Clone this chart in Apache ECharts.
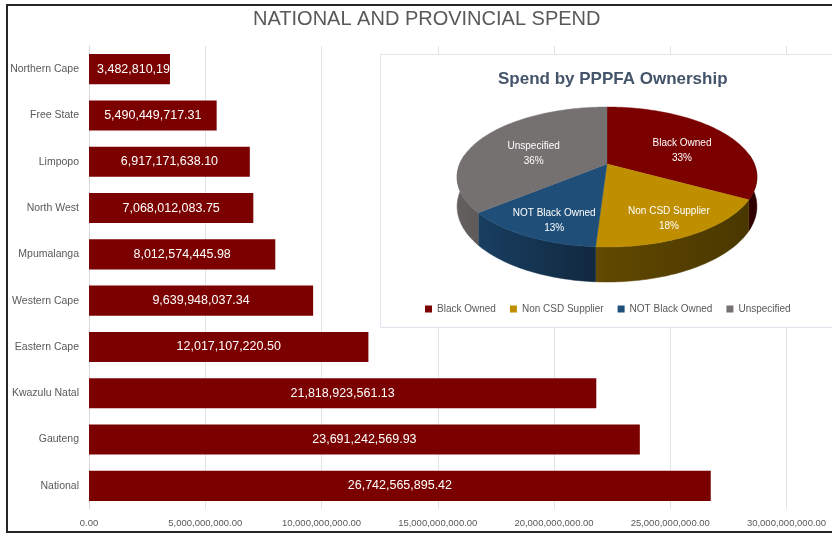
<!DOCTYPE html>
<html>
<head>
<meta charset="utf-8">
<script src="https://cdn.jsdelivr.net/npm/echarts@6/dist/echarts.min.js"></script>
<style>
  html, body { margin: 0; padding: 0; background: #ffffff; }
  #chart { width: 832px; height: 534px; }
</style>
</head>
<body>
<div id="chart"></div>
<script>
// Spend per government level
const categories = ['Northern Cape', 'Free State', 'Limpopo', 'North West', 'Mpumalanga',
  'Western Cape', 'Eastern Cape', 'Kwazulu Natal', 'Gauteng', 'National'];
const spendValues = [3482810190.00, 5490449717.31, 6917171638.10, 7068012083.75, 8012574445.98,
  9639948037.34, 12017107220.50, 21818923561.13, 23691242569.93, 26742565895.42];

// Value axis range
const axisMin = 0;
const axisMax = 30000000000;
const axisStep = 5000000000;

// Share of spend by PPPFA ownership (percent)
const ownershipNames = ['Black Owned', 'Non CSD Supplier', 'NOT Black Owned', 'Unspecified'];
const ownershipShare = [33, 18, 13, 36];

const FONT = '"Liberation Sans", Arial, sans-serif';
const barColor = '#7b0000';
const sliceColors = ['#7b0000', '#bf8f00', '#1f4e79', '#767171'];

function withCommas(v) {
  const fixed = Math.abs(v).toFixed(2);
  const parts = fixed.split('.');
  parts[0] = parts[0].replace(/\B(?=(\d{3})+(?!\d))/g, ',');
  return (v < 0 ? '-' : '') + parts[0] + '.' + parts[1];
}

// ---- 3D pie geometry (perspective view of a tilted disc) ----
const PIE = { cx: 607, cy: 164, a: 147.3, b: 67.6, dist: 5.39, depth: 28.5, halfWidth: 151 };

function project(X, Z, drop) {
  const s = PIE.dist / (PIE.dist - Z);
  return [PIE.cx + PIE.a * X * s, PIE.cy + PIE.b * Z * s + drop * s];
}
function rimPoint(deg, drop, r) {
  const t = deg * Math.PI / 180;
  const rr = r == null ? 1 : r;
  return project(rr * Math.sin(t), -rr * Math.cos(t), drop);
}
function shade(hex, f) {
  const n = parseInt(hex.slice(1), 16);
  const r = Math.round(((n >> 16) & 255) * f);
  const g = Math.round(((n >> 8) & 255) * f);
  const b = Math.round((n & 255) * f);
  return 'rgb(' + r + ',' + g + ',' + b + ')';
}
// wall brightness: lit from the left, darker towards the right
function wallFactor(X) {
  return X < 0 ? 0.5 - 0.35 * X : 0.5 - 0.12 * X;
}
function wallGradient(color) {
  const stops = [];
  for (let k = 0; k <= 10; k++) {
    const X = -1 + k / 5;
    stops.push({ offset: k / 10, color: shade(color, wallFactor(X)) });
  }
  return {
    type: 'linear', global: true,
    x: PIE.cx - PIE.halfWidth, y: 0, x2: PIE.cx + PIE.halfWidth, y2: 0,
    colorStops: stops
  };
}

function sliceAngles(idx) {
  const total = ownershipShare.reduce((s, v) => s + v, 0);
  let start = 0;
  for (let i = 0; i < idx; i++) start += ownershipShare[i] / total * 360;
  const end = start + ownershipShare[idx] / total * 360;
  return { start, end, pct: Math.round(ownershipShare[idx] / total * 100) };
}

function makeSliceRenderer(idx) {
  return function (params, api) {
    const ang = sliceAngles(idx);
    const color = sliceColors[idx];
    const children = [];

    // side wall (front part only; the back is hidden by the top face)
    const w0 = Math.max(ang.start, 82), w1 = Math.min(ang.end, 278);
    if (w1 > w0) {
      const steps = Math.max(2, Math.ceil((w1 - w0) / 1));
      const top = [], bottom = [];
      for (let k = 0; k <= steps; k++) {
        const d = w0 + (w1 - w0) * k / steps;
        top.push(rimPoint(d, 0));
        bottom.push(rimPoint(d, PIE.depth));
      }
      const grad = wallGradient(color);
      children.push({
        type: 'polygon',
        z2: 10 + idx,
        shape: { points: top.concat(bottom.reverse()) },
        style: { fill: grad, stroke: grad, lineWidth: 0.5 }
      });
    }

    // top face
    const pts = [project(0, 0, 0)];
    const n = Math.max(2, Math.ceil(ang.end - ang.start));
    for (let k = 0; k <= n; k++) pts.push(rimPoint(ang.start + (ang.end - ang.start) * k / n, 0));
    children.push({
      type: 'polygon',
      z2: 100,
      shape: { points: pts },
      style: { fill: color, stroke: color, lineWidth: 0.4 }
    });

    // data label
    const m = (ang.start + ang.end) / 2;
    const Zm = -Math.cos(m * Math.PI / 180);
    const lp = rimPoint(m, 0, 0.6 + 0.15 * Math.max(0, Zm));
    children.push({
      type: 'text',
      z2: 200,
      x: lp[0] + 3, y: lp[1] + 6,
      style: {
        text: ownershipNames[idx] + '\n' + ang.pct + '%',
        fill: '#ffffff', fontSize: 10, fontFamily: FONT,
        align: 'center', verticalAlign: 'middle', lineHeight: 15
      }
    });
    return { type: 'group', children };
  };
}

const pieSeries = ownershipNames.map((name, i) => ({
  type: 'custom',
  name: name,
  coordinateSystem: 'none',
  silent: true,
  z: 3,
  itemStyle: { color: sliceColors[i] },
  data: [ownershipShare[i]],
  renderItem: makeSliceRenderer(i)
}));

const barData = spendValues.map((v, i) => {
  if (i === 0) {
    return {
      value: v,
      label: { position: 'insideLeft', distance: 8, width: 77, overflow: 'truncate', ellipsis: '' }
    };
  }
  return v;
});

const chart = echarts.init(document.getElementById('chart'), null, { renderer: 'canvas' });
chart.setOption({
  animation: false,
  backgroundColor: '#ffffff',
  textStyle: { fontFamily: FONT },
  title: [
    {
      text: 'NATIONAL AND PROVINCIAL SPEND',
      left: 248, top: 4,
      textStyle: { color: '#595959', fontSize: 20, fontWeight: 'normal', fontFamily: FONT }
    },
    {
      text: 'Spend by PPPFA Ownership',
      left: 493, top: 66,
      textStyle: { color: '#44546a', fontSize: 17, fontWeight: 'bold', fontFamily: FONT }
    }
  ],
  legend: {
    data: ownershipNames,
    left: 420, top: 299,
    icon: 'rect', itemWidth: 7, itemHeight: 7, itemGap: 14,
    selectedMode: false,
    textStyle: { color: '#595959', fontSize: 10, fontFamily: FONT }
  },
  grid: { left: 89, right: 45.5, top: 46, bottom: 25, containLabel: false },
  xAxis: {
    type: 'value',
    min: axisMin, max: axisMax, interval: axisStep,
    axisLine: { show: false },
    axisTick: { show: false },
    splitLine: { lineStyle: { color: '#e3e3e3', width: 1 } },
    axisLabel: {
      color: '#595959', fontSize: 9.5, fontFamily: FONT, margin: 9,
      formatter: v => withCommas(v)
    }
  },
  yAxis: {
    type: 'category',
    data: categories,
    inverse: true,
    axisLine: { show: true, lineStyle: { color: '#d9d9d9' } },
    axisTick: { show: false },
    axisLabel: { color: '#595959', fontSize: 10.5, fontFamily: FONT, margin: 10 }
  },
  graphic: {
    elements: [
      {
        type: 'rect', z: 1, silent: true,
        shape: { x: 380.5, y: 54.5, width: 480, height: 273 },
        style: { fill: '#ffffff', stroke: '#dfe5ec', lineWidth: 1 }
      },
      {
        type: 'rect', z: 20, silent: true,
        shape: { x: 7, y: 5, width: 840, height: 527 },
        style: { fill: 'none', stroke: '#262626', lineWidth: 2 }
      }
    ]
  },
  series: [
    {
      type: 'bar',
      name: 'Spend',
      data: barData,
      barCategoryGap: '35%',
      itemStyle: { color: barColor },
      label: {
        show: true, position: 'inside', color: '#ffffff',
        fontSize: 12.5, fontFamily: FONT,
        formatter: p => withCommas(p.value)
      },
      z: 2
    }
  ].concat(pieSeries)
});
</script>
</body>
</html>
